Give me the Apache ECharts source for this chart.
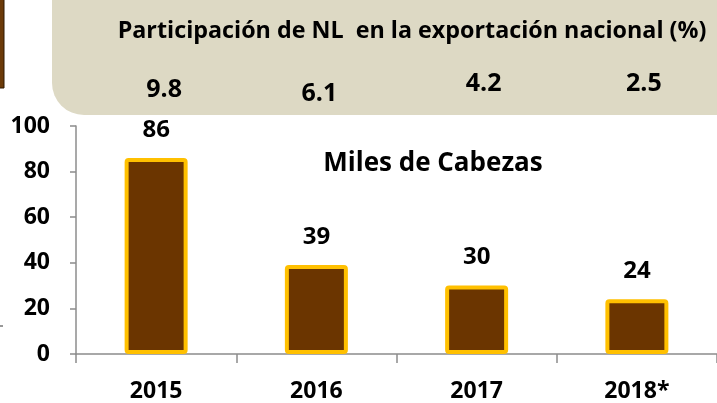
<!DOCTYPE html>
<html>
<head>
<meta charset="utf-8">
<script src="https://cdn.jsdelivr.net/npm/echarts@6/dist/echarts.min.js"></script>
<style>
  html, body { margin: 0; padding: 0; background: #fff; }
  #chart { width: 717px; height: 403px; }
</style>
</head>
<body>
<div id="chart"></div>
<script>
const years = ['2015', '2016', '2017', '2018*'];
const heads = [86, 39, 30, 24];          // miles de cabezas
const share = ['9.8', '6.1', '4.2', '2.5']; // participación (%)
const yTicks = [0, 20, 40, 60, 80, 100];

const FONT = '"Open Sans", Lato, sans-serif';

// the percentages sit a little unevenly in the original slide
const shareStyle = ['a', 'b', 'c', 'c'];

const chart = echarts.init(document.getElementById('chart'));

const shareText = { color: '#000', fontSize: 25, fontWeight: 'bold', fontFamily: FONT };

chart.setOption({
  backgroundColor: '#fff',
  animation: false,
  grid: { left: 76, right: 0, top: 126, bottom: 48 },
  graphic: [
    {
      type: 'rect',
      z: -10,
      shape: { x: 52, y: -40, width: 720, height: 155, r: 32 },
      style: { fill: '#ddd9c4' },
    },
    {
      type: 'rect',
      shape: { x: -3, y: -3, width: 7, height: 91 },
      style: { fill: '#6b3a08', stroke: '#2e1800', lineWidth: 1 },
    },
    {
      type: 'line',
      shape: { x1: 0, y1: 326, x2: 3, y2: 326 },
      style: { stroke: '#333', lineWidth: 1 },
    },
    {
      type: 'text',
      x: 412,
      y: 31,
      style: {
        text: 'Participación de NL  en la exportación nacional (%)',
        font: 'bold 23.3px ' + FONT,
        fill: '#000',
        align: 'center',
        verticalAlign: 'middle',
      },
    },
    {
      type: 'text',
      x: 433,
      y: 164,
      style: {
        text: 'Miles de Cabezas',
        font: 'bold 26px ' + FONT,
        fill: '#000',
        align: 'center',
        verticalAlign: 'middle',
      },
    },
  ],
  xAxis: [
    {
      type: 'category',
      data: years,
      axisLine: { lineStyle: { color: '#8c8c8c', width: 1.5 } },
      axisTick: { show: true, length: 9, alignWithLabel: false, lineStyle: { color: '#8c8c8c', width: 1.5 } },
      axisLabel: { color: '#000', fontSize: 23, fontWeight: 'bold', fontFamily: FONT, margin: 26 },
    },
    {
      type: 'category',
      position: 'top',
      data: share,
      axisLine: { show: false },
      axisTick: { show: false },
      axisLabel: {
        margin: 20,
        formatter: (v, i) => '{' + shareStyle[i] + '|' + v + '}',
        rich: {
          a: Object.assign({ padding: [0, 0, 4, 16] }, shareText),
          b: Object.assign({ padding: [0, 0, 0, 6] }, shareText),
          c: Object.assign({ padding: [0, 0, 10, 14] }, shareText),
        },
      },
    },
  ],
  yAxis: {
    type: 'value',
    min: 0,
    max: 100,
    interval: 20,
    axisLine: { show: true, lineStyle: { color: '#8c8c8c', width: 1.5 } },
    axisTick: { show: true, length: 6, lineStyle: { color: '#8c8c8c', width: 1.5 } },
    splitLine: { show: false },
    axisLabel: {
      color: '#000', fontSize: 23, fontWeight: 'bold', fontFamily: FONT, margin: 26,
      formatter: (v) => (yTicks.includes(v) ? String(v) : ''),
    },
  },
  series: [
    {
      type: 'bar',
      xAxisIndex: 0,
      data: heads,
      barWidth: 63,
      itemStyle: {
        color: '#6b3500',
        borderColor: '#ffc000',
        borderWidth: 4,
        borderRadius: 2,
      },
      label: {
        show: true,
        position: 'top',
        distance: 16,
        color: '#000',
        fontSize: 24,
        fontWeight: 'bold',
        fontFamily: FONT,
      },
    },
  ],
});
</script>
</body>
</html>
